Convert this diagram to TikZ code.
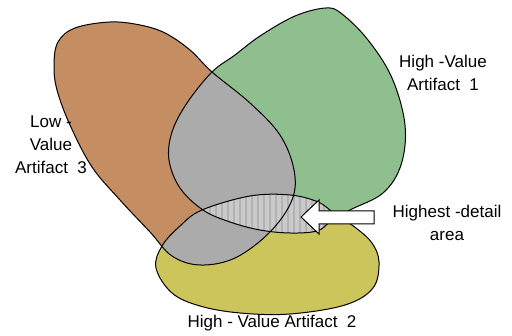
\documentclass[tikz,border=0pt]{standalone}
\usepackage{fontspec}
\setmainfont{Liberation Sans}
\definecolor{browncol}{HTML}{C48E62}
\definecolor{greencol}{HTML}{8FBF8F}
\definecolor{yellowcol}{HTML}{CBC55C}
\definecolor{greycol}{HTML}{ABABAB}
\definecolor{lenscol}{HTML}{CACACA}
\definecolor{stripecol}{HTML}{B2B2B2}
\begin{document}
\begin{tikzpicture}[x=1pt,y=-1pt,
  outline/.style={draw=black,line width=1pt},
  lbl/.style={font=\fontsize{17}{23}\selectfont, align=center, inner sep=0pt}]
\useasboundingbox (0,0) rectangle (512,336);
\def\brownpath{plot[smooth cycle, tension=0.6] coordinates {(58,42) (75,28) (110,22) (140,25) (165,33) (190,50) (212,72) (250,103) (280,135) (294,170) (292,200) (270,232) (235,258) (200,265) (172,256) (150,232) (120,200) (92,167) (70,125) (57,90) (54,65)}}
\def\greenpath{plot[smooth cycle, tension=0.6] coordinates {(212,72) (235,55) (260,36) (295,16) (326,8) (342,14) (368,40) (392,78) (405,125) (401,165) (383,193) (350,210) (330,222) (317,231) (290,233) (260,230) (230,222) (203,210) (180,188) (169,160) (172,132) (187,103)}}
\def\yellowpath{plot[smooth cycle, tension=0.6] coordinates {(156,268) (162,246) (180,226) (202,210) (250,196) (290,195) (318,202) (335,214) (356,228) (372,243) (379,262) (373,288) (345,305) (290,314) (240,313) (200,306) (172,293)}}
% base fills
\fill[browncol] \brownpath;
\fill[greencol] \greenpath;
\fill[yellowcol] \yellowpath;
% pairwise overlaps with brown
\begin{scope}
  \clip \brownpath;
  \fill[greycol] \greenpath;
  \fill[greycol] \yellowpath;
\end{scope}
% green-yellow lens (highest detail)
\begin{scope}
  \clip \greenpath;
  \clip \yellowpath;
  \fill[lenscol] (150,180) rectangle (400,250);
  \foreach \sx in {150,156,...,400} {
    \draw[stripecol, line width=2.5pt] (\sx,180) -- (\sx,250);
  }
\end{scope}
% outlines
\draw[outline] \brownpath;
\draw[outline] \greenpath;
\draw[outline] \yellowpath;
% block arrow
\draw[fill=white, line width=1pt, line join=miter] (301,217) -- (319,200) -- (319,211) -- (374,211) -- (374,224) -- (319,224) -- (319,234) -- cycle;
% labels
\node[lbl] (l1) at (443,73) {High -Value\\Artifact\ \ 1};
\node[lbl] (l3) at (51,145) {Low -\\Value\\Artifact\ \ 3};
\node[lbl] (hd) at (447,223) {Highest -detail\\area};
\node[lbl] (l2) at (272,323) {High - Value Artifact\ \ 2};
\end{tikzpicture}
\end{document}
